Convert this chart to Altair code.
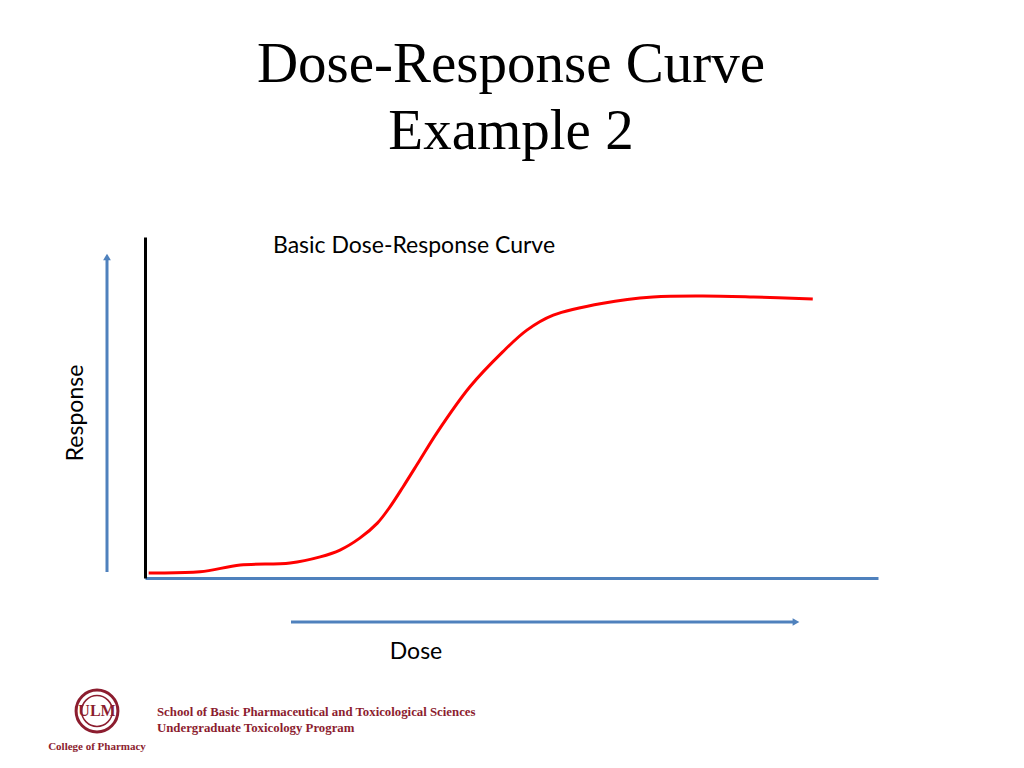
import altair as alt
import pandas as pd

# Curve (dose, response in % of plot range)
dose = [0.5, 7.5, 13.0, 19.8, 23.9, 26.6, 29.3, 31.7, 33.4, 35.2, 37.5, 39.8, 44.3, 48.8, 52.1, 55.7, 62.5, 69.3, 76.1, 83.0, 91.1]
response = [1.5, 1.8, 3.8, 4.4, 6.2, 8.2, 11.7, 16.1, 20.8, 26.7, 34.6, 42.5, 56.0, 66.3, 72.7, 77.1, 80.6, 82.4, 82.7, 82.4, 81.8]

title_lines = ["Dose-Response Curve", "Example 2"]
subtitle = "Basic Dose-Response Curve"
x_label = "Dose"
y_label = "Response"
footer_lines = ["School of Basic Pharmaceutical and Toxicological Sciences", "Undergraduate Toxicology Program"]
college = "College of Pharmacy"
logo_text = "ULM"

BLUE = "#4F81BD"
RED = "#FF0000"
MAROON = "#8C1D2F"

curve_df = pd.DataFrame({"dose": dose, "response": response})

xs = alt.Scale(domain=[0, 100], nice=False, zero=False)
ys = alt.Scale(domain=[0, 100], nice=False, zero=False)

curve = alt.Chart(curve_df).mark_line(color=RED, strokeWidth=3, interpolate="catmull-rom").encode(
    x=alt.X("dose:Q", scale=xs, axis=alt.Axis(domain=True, domainColor=BLUE, domainWidth=3,
                                               ticks=False, labels=False, grid=False, title=None)),
    y=alt.Y("response:Q", scale=ys, axis=alt.Axis(domain=True, domainColor="black", domainWidth=3,
                                                   ticks=False, labels=False, grid=False, title=None)),
)

one = pd.DataFrame({"k": [0]})

def txt(text, x, y, **kw):
    return alt.Chart(one).mark_text(text=text, **kw).encode(x=alt.value(x), y=alt.value(y))

layers = [curve]

# Titles
layers.append(txt(title_lines[0], 366, -155, font="Liberation Serif", fontSize=57, color="black", align="center", baseline="alphabetic"))
layers.append(txt(title_lines[1], 366, -88, font="Liberation Serif", fontSize=57, color="black", align="center", baseline="alphabetic"))
layers.append(txt(subtitle, 269, 16, font="Lato", fontSize=23, color="black", align="center", baseline="alphabetic"))
layers.append(txt(x_label, 271, 422, font="Lato", fontSize=23, color="black", align="center", baseline="alphabetic"))
layers.append(txt(y_label, -62, 176, font="Lato", fontSize=23, color="black", align="center", baseline="alphabetic", angle=270))

# Arrows
layers.append(alt.Chart(one).mark_rule(color=BLUE, strokeWidth=3).encode(
    x=alt.value(-38), y=alt.value(335), y2=alt.value(22)))
layers.append(alt.Chart(one).mark_point(shape="triangle-up", filled=True, color=BLUE, opacity=1, size=60).encode(
    x=alt.value(-38), y=alt.value(20)))
layers.append(alt.Chart(one).mark_rule(color=BLUE, strokeWidth=3).encode(
    x=alt.value(146), x2=alt.value(650), y=alt.value(385)))
layers.append(alt.Chart(one).mark_point(shape="triangle-right", filled=True, color=BLUE, opacity=1, size=60).encode(
    x=alt.value(651), y=alt.value(385)))

# Footer logo
layers.append(alt.Chart(one).mark_point(shape="circle", filled=False, color=MAROON, strokeWidth=3, opacity=1, size=1750).encode(
    x=alt.value(-48), y=alt.value(474)))
layers.append(alt.Chart(one).mark_point(shape="circle", filled=False, color=MAROON, strokeWidth=1.5, opacity=1, size=950).encode(
    x=alt.value(-48), y=alt.value(474)))
layers.append(txt(logo_text, -48, 474, font="Liberation Serif", fontSize=16, fontWeight="bold", color=MAROON, align="center", baseline="middle"))
layers.append(txt(college, -48, 513, font="Liberation Serif", fontSize=11, fontWeight="bold", color=MAROON, align="center", baseline="alphabetic"))
layers.append(txt(footer_lines[0], 12, 479, font="Liberation Serif", fontSize=12.8, fontWeight="bold", color=MAROON, align="left", baseline="alphabetic"))
layers.append(txt(footer_lines[1], 12, 495, font="Liberation Serif", fontSize=12.8, fontWeight="bold", color=MAROON, align="left", baseline="alphabetic"))

chart = alt.layer(*layers).properties(
    width=733, height=341,
    autosize=alt.AutoSizeParams(type="none"),
    padding={"left": 137, "top": 229, "right": 138, "bottom": 182},
    background="white",
).configure_view(stroke=None)

chart.save("out.html", embed_options={"renderer": "svg", "actions": False})
